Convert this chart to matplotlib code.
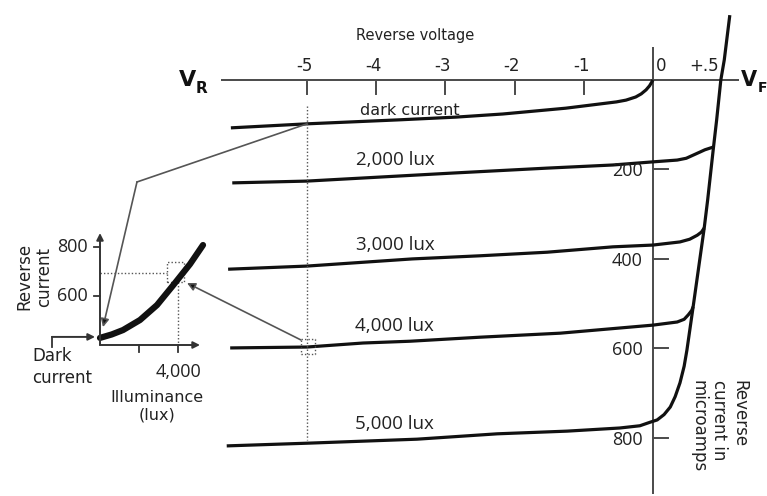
import matplotlib
matplotlib.use("Agg")
import matplotlib.pyplot as plt

# ---------------- data (main chart: volts, microamps) ----------------
voltage_ticks = [-5, -4, -3, -2, -1]
voltage_labels = ["-5", "-4", "-3", "-2", "-1"]
current_ticks = [200, 400, 600, 800]
current_labels = ["200", "400", "600", "800"]

dark_v = [-6.10, -5.00, -3.66, -2.85, -2.17, -1.26, -0.53, -0.39, -0.25, -0.17, -0.10, -0.05, 0.00]
dark_i = [107, 98, 89, 83, 76, 63, 49, 45, 38, 31, 22, 13, 0]

lux2000_v = [-6.08, -5.00, -2.89, -1.53, -0.58, 0.00, 0.35, 0.48, 0.58, 0.68, 0.75, 0.87]
lux2000_i = [230, 226, 208, 197, 190, 183, 179, 175, 168, 161, 156, 150]

lux3000_v = [-6.14, -5.00, -3.48, -2.50, -1.53, -0.58, 0.00, 0.39, 0.53, 0.64, 0.70, 0.74]
lux3000_i = [423, 416, 400, 393, 385, 373, 369, 362, 356, 347, 340, 331]

lux4000_v = [-6.11, -5.00, -4.19, -3.51, -2.50, -1.34, 0.00, 0.35, 0.45, 0.51, 0.56, 0.58]
lux4000_i = [599, 597, 588, 584, 575, 566, 548, 541, 535, 525, 515, 507]

lux5000_v = [-6.16, -5.00, -3.41, -2.25, -1.24, -0.48, -0.19, -0.04, 0.06, 0.16, 0.25, 0.32,
             0.39, 0.45, 0.49, 0.58, 0.74, 0.79, 0.87, 0.92, 0.98, 1.03, 1.11]
lux5000_i = [818, 812, 803, 791, 785, 778, 773, 765, 760, 748, 731, 708,
             677, 640, 604, 507, 331, 268, 156, 89, 0, -45, -145]

curve_labels = ["2,000 lux", "3,000 lux", "4,000 lux", "5,000 lux"]
curve_label_i = [179, 369, 550, 769]

# ---------------- data (inset: lux, microamps) ----------------
inset_lux = [0, 600, 1179, 2051, 2923, 3744, 4615, 5282]
inset_cur = [429, 443, 461, 502, 563, 643, 730, 808]
inset_yticks = [600, 800]
inset_ylabels = ["600", "800"]
inset_xticks = [2000, 4000]

# ---------------- figure ----------------
W, H = 767, 496
fig = plt.figure(figsize=(W / 100, H / 100), dpi=100)
ax = fig.add_axes([0, 0, 1, 1])
ax.set_xlim(-653 / 69.2, (W - 653) / 69.2)
ax.set_ylim((H - 80) / 0.4473, -80 / 0.4473)
ax.axis("off")

ink = "#111111"
axc = "#4a4a4a"
grayc = "#555555"
mod_font = "Open Sans"
old_font = "DejaVu Sans"

# axes lines
ax.plot([-6.24, 1.24], [0, 0], color=axc, lw=1.4, solid_capstyle="butt")
ax.plot([0, 0], [-74, 925], color=axc, lw=1.4, solid_capstyle="butt")
for v, lab in zip(voltage_ticks, voltage_labels):
    ax.plot([v, v], [4, 31], color=axc, lw=1.4)
    ax.text(v - 0.04, -31, lab, ha="center", va="center", fontsize=12,
            family=old_font, color="#222222")
ax.text(0.12, -31, "0", ha="center", va="center", fontsize=12, family=old_font, color="#222222")
ax.text(0.74, -31, "+.5", ha="center", va="center", fontsize=12, family=old_font, color="#222222")
for c, lab in zip(current_ticks, current_labels):
    ax.plot([0, 0.21], [c, c], color=axc, lw=1.4)
    ax.text(-0.145, c + 4, lab, ha="right", va="center", fontsize=13,
            family=mod_font, color="#222222")

ax.text(-3.44, -100, "Reverse voltage", ha="center", va="center", fontsize=10.5,
        family=old_font, color="#222222")
ax.text(-6.72, 0, "V", ha="center", va="center", fontsize=16, fontweight="bold",
        family=old_font, color=ink)
ax.text(-6.52, 18, "R", ha="center", va="center", fontsize=11, fontweight="bold",
        family=old_font, color=ink)
ax.text(1.385, 0, "V", ha="center", va="center", fontsize=15, fontweight="bold",
        family=old_font, color=ink)
ax.text(1.58, 18, "F", ha="center", va="center", fontsize=10, fontweight="bold",
        family=old_font, color=ink)
ax.text(0.954, 671, "Reverse\ncurrent in\nmicroamps", rotation=-90, ha="center",
        va="top", fontsize=12, family=old_font, color="#222222",
        multialignment="left", linespacing=1.15)

# curves
for vv, ii in [(dark_v, dark_i), (lux2000_v, lux2000_i), (lux3000_v, lux3000_i),
               (lux4000_v, lux4000_i), (lux5000_v, lux5000_i)]:
    ax.plot(vv, ii, color=ink, lw=2.3, solid_joinstyle="round", solid_capstyle="butt")

ax.text(-3.51, 69, "dark current", ha="center", va="center", fontsize=11.5,
        family=old_font, color="#222222")
for lab, ci in zip(curve_labels, curve_label_i):
    ax.text(-3.73, ci, lab, ha="center", va="center", fontsize=13.5,
            family=mod_font, color="#222222")

# dotted guide at -5 V and the small box on the 4,000 lux curve
ax.plot([-5, -5], [58, 805], color=grayc, lw=1.0, ls=(0, (1, 1.5)))
ax.plot([-5.09, -4.88, -4.88, -5.09, -5.09], [579, 579, 613, 613, 579],
        color=grayc, lw=1.0, ls=(0, (1, 1.5)))

# ---------------- inset ----------------
ins = fig.add_axes([100 / W, (H - 345) / H, 110 / W, 115 / H])
ins.set_xlim(0, 110 / 0.0195)
ins.set_ylim(400, 400 + 115 / 0.245)
ins.axis("off")

arrow_kw = dict(arrowstyle="-|>", color="#333333", lw=1.4, mutation_scale=10,
                shrinkA=0, shrinkB=0)
ins.annotate("", xy=(0, 857), xytext=(0, 400), arrowprops=arrow_kw, annotation_clip=False)
ins.annotate("", xy=(5128, 400), xytext=(0, 400), arrowprops=arrow_kw, annotation_clip=False)
for t, lab in zip(inset_yticks, inset_ylabels):
    ins.plot([-310, 0], [t, t], color="#333333", lw=1.3, clip_on=False)
    ins.text(-615, t, lab, ha="right", va="center", fontsize=13, family=mod_font,
             color="#222222", clip_on=False)
for t in inset_xticks:
    ins.plot([t, t], [400, 371], color="#333333", lw=1.3, clip_on=False)
ins.text(4000, 290, "4,000", ha="center", va="center", fontsize=13, family=mod_font,
         color="#222222", clip_on=False)
ins.text(2923, 151, "Illuminance\n(lux)", ha="center", va="center", fontsize=11.5,
         family=old_font, color="#222222", linespacing=1.2, clip_on=False)
ins.text(-3385, 678, "Reverse\ncurrent", rotation=90, ha="center", va="center",
         fontsize=12, family=old_font, color="#222222", linespacing=1.1, clip_on=False)
ins.text(-3487, 392, "Dark\ncurrent", ha="left", va="top", fontsize=12,
         family=old_font, color="#222222", linespacing=1.3, clip_on=False)

# dotted guides in inset
dot = dict(color=grayc, lw=1.0, ls=(0, (1, 1.5)), clip_on=False)
ins.plot([0, 3436], [694, 694], **dot)
ins.plot([3436, 4308, 4308, 3436, 3436], [657, 657, 739, 739, 657], **dot)
ins.plot([4000, 4000], [657, 400], **dot)

ins.plot(inset_lux, inset_cur, color=ink, lw=4.5, solid_capstyle="round",
         solid_joinstyle="round", clip_on=False)

# dark current pointer
ins.plot([-2462, -2462], [392, 433], color="#333333", lw=1.3, clip_on=False)
ins.annotate("", xy=(-256, 433), xytext=(-2462, 433), arrowprops=arrow_kw,
             annotation_clip=False)

# connector lines from main chart to inset
ax.plot([-5.0, -7.457], [98, 228], color=grayc, lw=1.2)
ax.annotate("", xy=(154, 473), xycoords=ins.transData, xytext=(-7.457, 228),
            textcoords="data",
            arrowprops=dict(arrowstyle="-|>", color=grayc, lw=1.2, mutation_scale=12,
                            shrinkA=0, shrinkB=0, fc=ink, ec=grayc),
            annotation_clip=False)
ax.annotate("", xy=(4462, 653), xycoords=ins.transData, xytext=(-5.09, 581),
            textcoords="data",
            arrowprops=dict(arrowstyle="-|>", color=grayc, lw=1.2, mutation_scale=12,
                            shrinkA=0, shrinkB=0, fc=ink, ec=grayc),
            annotation_clip=False)

fig.savefig("out.png", dpi=100)
